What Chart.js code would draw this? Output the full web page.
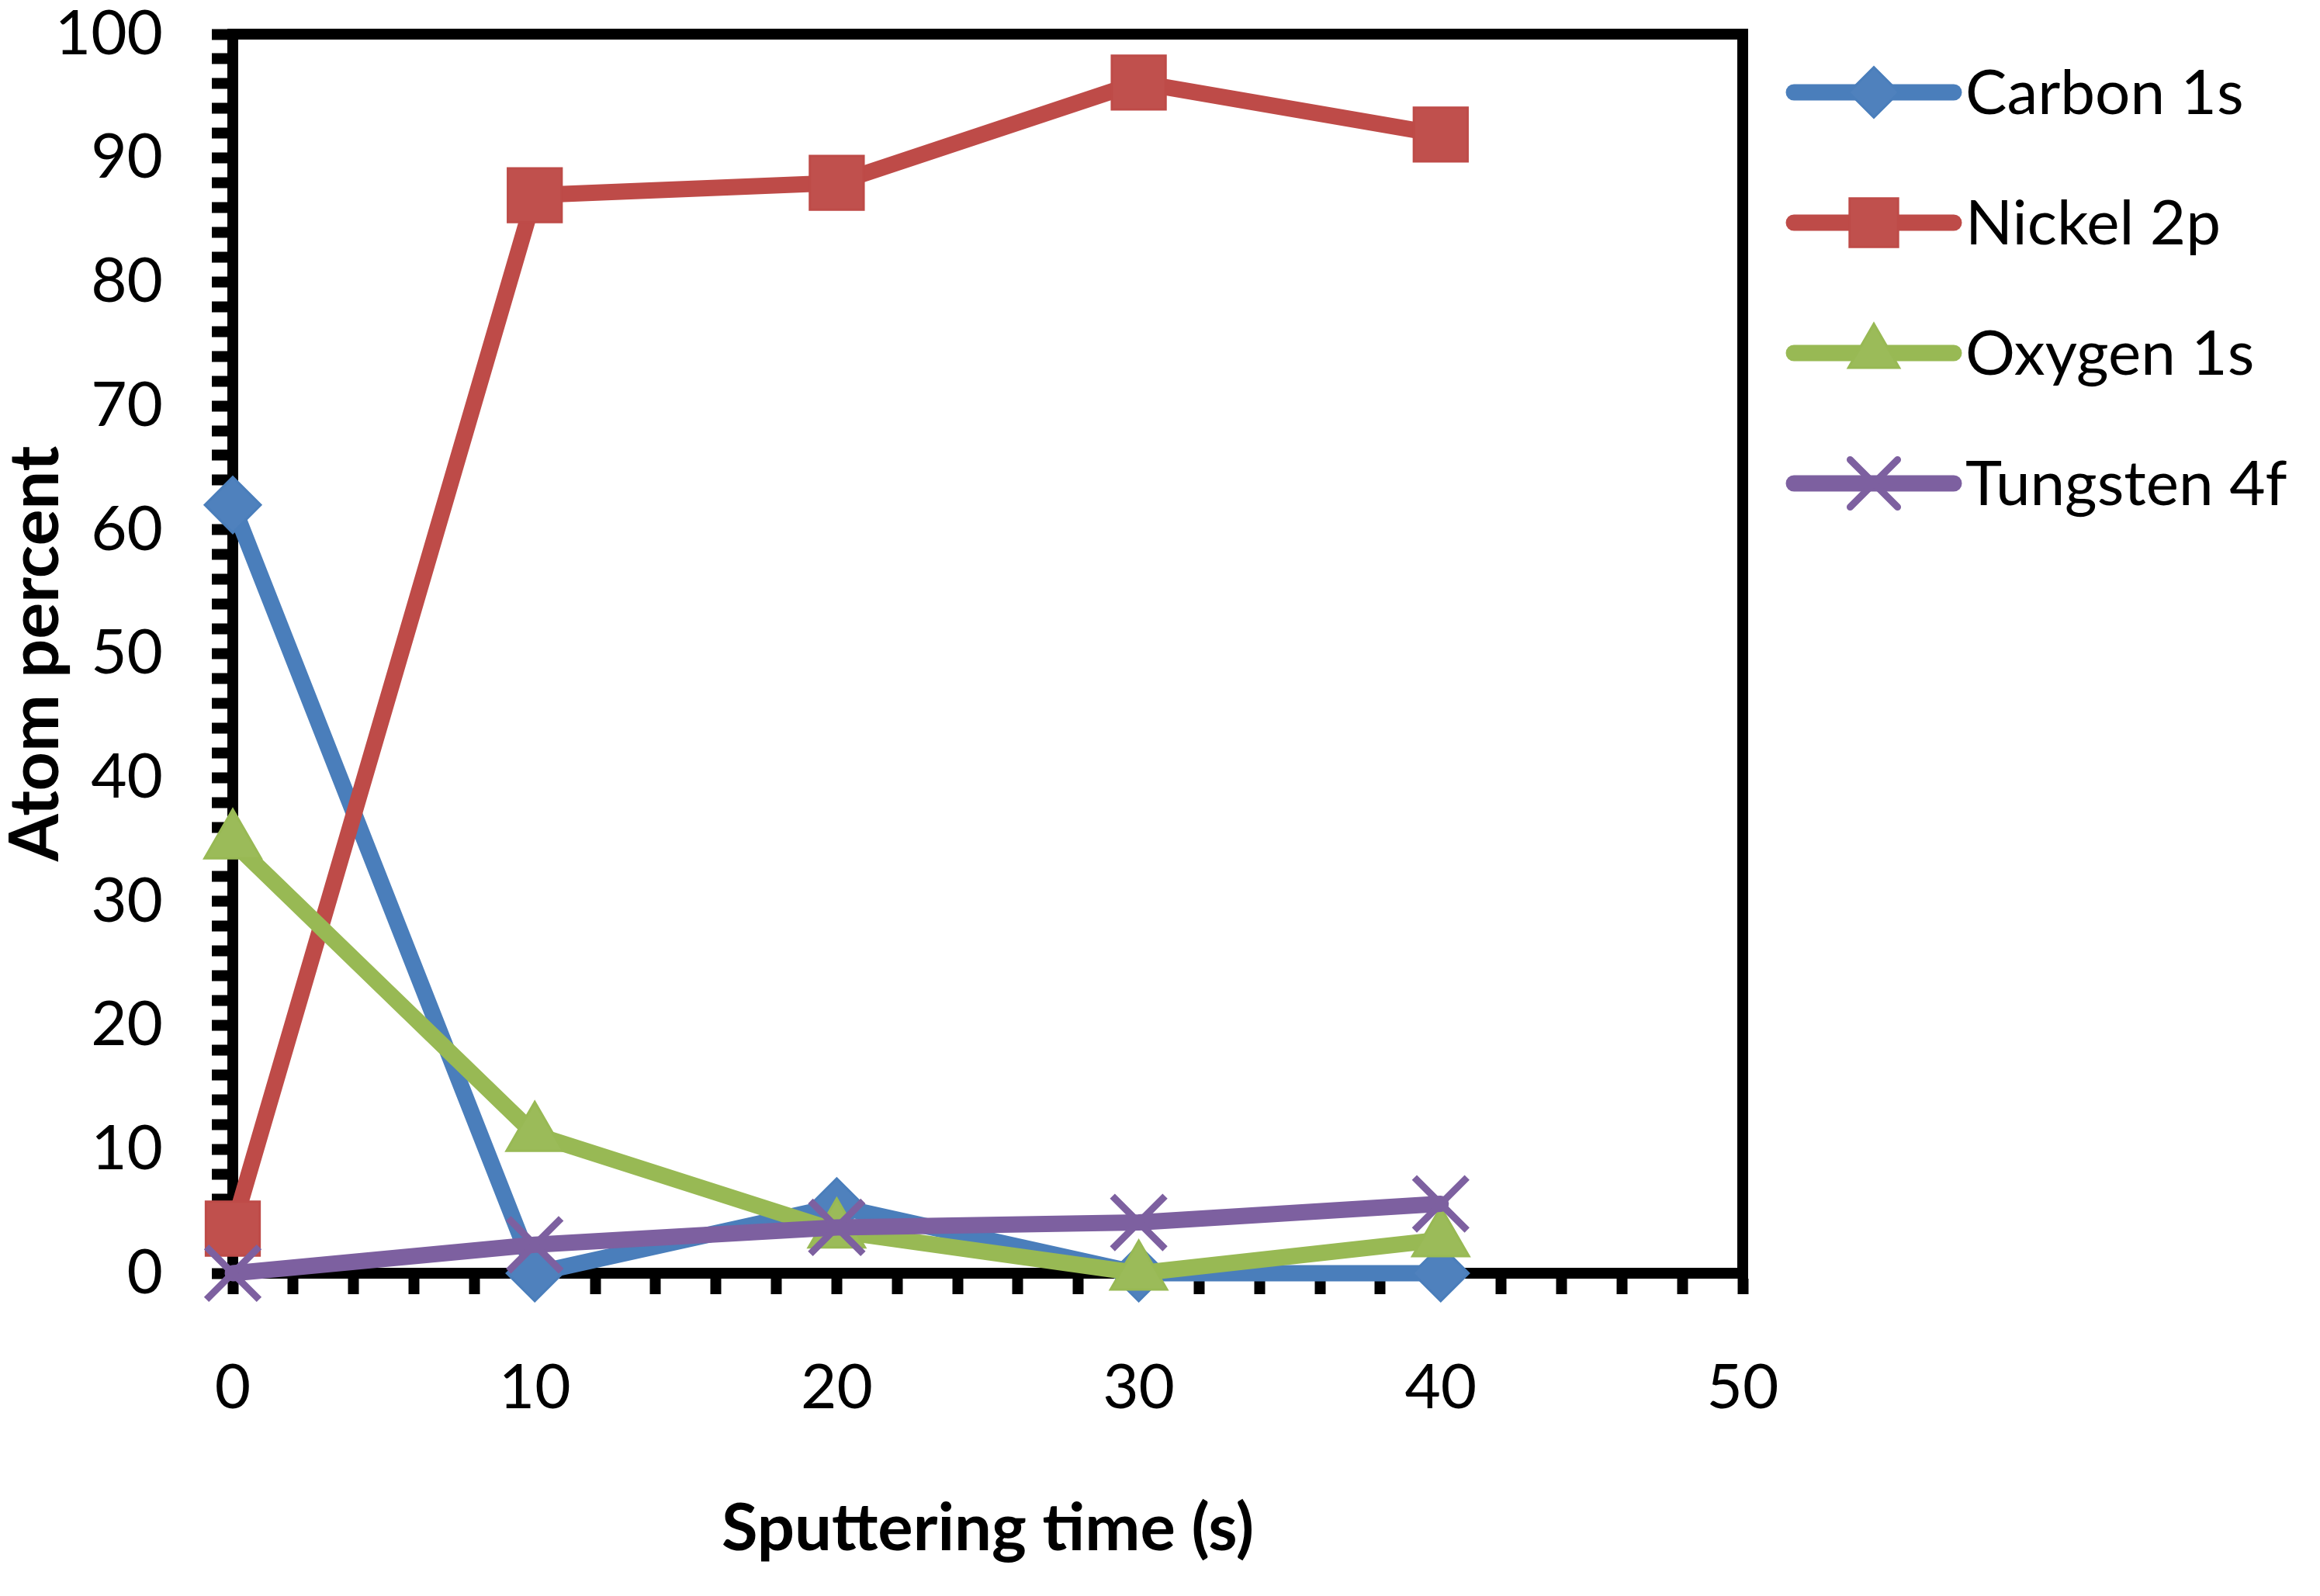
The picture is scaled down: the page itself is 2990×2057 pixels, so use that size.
<!DOCTYPE html>
<html>
<head>
<meta charset="utf-8">
<title>Atom percent vs sputtering time</title>
<script src="https://cdn.jsdelivr.net/npm/chart.js@4.4.0/dist/chart.umd.min.js"></script>
<style>
  html, body { margin: 0; padding: 0; background: #fff; overflow: hidden; }
  canvas { display: block; }
</style>
</head>
<body>
<canvas id="xps-chart" width="2990" height="2057"></canvas>
<script>
// sputtering time (s)
const times = [0, 10, 20, 30, 40];

// atom percent
const carbon1s = [62, 0, 5.4, 0, 0];
const nickel2p = [3.6, 87, 88, 96.1, 91.9];
const oxygen1s = [34.8, 11.2, 3.4, 0, 2.7];
const tungsten4f = [0, 2.3, 3.7, 4.1, 5.6];

const seriesNames = ['Carbon 1s', 'Nickel 2p', 'Oxygen 1s', 'Tungsten 4f'];

const X_MIN = 0, X_MAX = 50;
const Y_MIN = 0, Y_MAX = 100;
const TICK_STEP = 2;     // minor tick spacing on both axes
const LABEL_STEP = 10;   // only every 10th unit gets a label

const AXIS_W = 14;
const LEGEND_ROW0 = 75;   // first legend row, px below the plot top
const LEGEND_STEP = 168;

function toPoints(values) {
  return values.map((v, i) => ({ x: times[i], y: v }));
}

function makeSeries(label, values, lineColor, fillColor, style, radius, order) {
  return {
    label: label,
    data: toPoints(values),
    borderColor: lineColor,
    borderWidth: 21,
    borderCapStyle: 'round',
    borderJoinStyle: 'round',
    pointStyle: style,
    pointRadius: radius,
    pointHoverRadius: radius,
    pointBackgroundColor: fillColor,
    pointBorderColor: lineColor,
    pointBorderWidth: style === 'crossRot' ? 9 : 3,
    tension: 0,
    clip: false,
    order: order
  };
}

// Excel-like box round the plot (top and right sides; left/bottom are the axes)
const plotFrame = {
  id: 'plotFrame',
  beforeDatasetsDraw(chart) {
    const { ctx, chartArea: a } = chart;
    ctx.save();
    ctx.strokeStyle = '#000';
    ctx.lineWidth = AXIS_W;
    ctx.lineCap = 'square';
    ctx.beginPath();
    ctx.moveTo(a.left, a.top);
    ctx.lineTo(a.right, a.top);
    ctx.lineTo(a.right, a.bottom);
    ctx.stroke();
    ctx.restore();
  }
};

// legend with line + marker samples, like the spreadsheet one
const lineLegend = {
  id: 'lineLegend',
  afterDraw(chart) {
    const { ctx, chartArea } = chart;
    const x0 = chartArea.right + 66;
    const x1 = chartArea.right + 272;
    const tx = chartArea.right + 287;
    chart.data.datasets.forEach((ds, i) => {
      const y = chartArea.top + LEGEND_ROW0 + i * LEGEND_STEP;
      ctx.save();
      ctx.strokeStyle = ds.borderColor;
      ctx.lineWidth = ds.borderWidth;
      ctx.lineCap = 'round';
      ctx.beginPath();
      ctx.moveTo(x0, y);
      ctx.lineTo(x1, y);
      ctx.stroke();

      ctx.fillStyle = ds.pointBackgroundColor;
      ctx.strokeStyle = ds.pointBorderColor;
      ctx.lineWidth = ds.pointBorderWidth;
      Chart.helpers.drawPoint(ctx, {
        pointStyle: ds.pointStyle,
        radius: ds.pointRadius * 0.9,
        borderWidth: ds.pointBorderWidth,
        rotation: 0
      }, (x0 + x1) / 2, y);

      ctx.fillStyle = '#000';
      ctx.font = '80px Lato';
      ctx.textAlign = 'left';
      ctx.textBaseline = 'middle';
      ctx.fillText(ds.label, tx, y + 2);
      ctx.restore();
    });
  }
};

function labelEveryTen(value) {
  return value % LABEL_STEP === 0 ? value : '';
}

function drawChart() {
  Chart.defaults.font.family = 'Lato';
  Chart.defaults.color = '#000';

  const ctx = document.getElementById('xps-chart').getContext('2d');
  new Chart(ctx, {
    type: 'line',
    data: {
      datasets: [
        makeSeries(seriesNames[0], carbon1s, '#4A7EBB', '#4F81BD', 'rectRot', 36, 4),
        makeSeries(seriesNames[1], nickel2p, '#BE4B48', '#C0504D', 'rect', 49, 3),
        makeSeries(seriesNames[2], oxygen1s, '#98B954', '#9BBB59', 'triangle', 42, 2),
        makeSeries(seriesNames[3], tungsten4f, '#7D60A0', '#8064A2', 'crossRot', 48, 1)
      ]
    },
    options: {
      responsive: false,
      devicePixelRatio: 1,
      animation: false,
      layout: {
        autoPadding: false,
        padding: { top: 44, right: 744, left: 0, bottom: 0 }
      },
      plugins: {
        legend: { display: false },
        tooltip: { enabled: false }
      },
      scales: {
        x: {
          type: 'linear',
          min: X_MIN,
          max: X_MAX,
          afterFit(scale) {
            scale.height = 416;
            scale.paddingLeft = 0;
            scale.paddingRight = 0;
          },
          border: { display: true, color: '#000', width: AXIS_W },
          grid: {
            drawOnChartArea: false,
            drawTicks: true,
            tickLength: 27,
            tickWidth: 14,
            tickColor: '#000'
          },
          ticks: {
            stepSize: TICK_STEP,
            autoSkip: false,
            maxRotation: 0,
            padding: 73,
            font: { size: 80 },
            color: '#000',
            callback: labelEveryTen
          },
          title: {
            display: true,
            text: 'Sputtering time (s)',
            color: '#000',
            font: { size: 85, weight: 'bold', lineHeight: 1 },
            padding: { top: 0, bottom: 44 }
          }
        },
        y: {
          type: 'linear',
          min: Y_MIN,
          max: Y_MAX,
          afterFit(scale) {
            scale.width = 300;
            scale.paddingTop = 0;
            scale.paddingBottom = 0;
          },
          border: { display: true, color: '#000', width: AXIS_W },
          grid: {
            drawOnChartArea: false,
            drawTicks: true,
            tickLength: 27,
            tickWidth: 14,
            tickColor: '#000'
          },
          ticks: {
            stepSize: TICK_STEP,
            autoSkip: false,
            padding: 63,
            font: { size: 80 },
            color: '#000',
            callback: labelEveryTen
          },
          title: {
            display: true,
            text: 'Atom percent',
            color: '#000',
            font: { size: 88, weight: 'bold', lineHeight: 1 },
            padding: { top: 3, bottom: 0 }
          }
        }
      }
    },
    plugins: [plotFrame, lineLegend]
  });
}

if (document.fonts && document.fonts.load) {
  Promise.all([
    document.fonts.load('80px Lato'),
    document.fonts.load('bold 88px Lato')
  ]).then(drawChart, drawChart);
} else {
  drawChart();
}
</script>
</body>
</html>
